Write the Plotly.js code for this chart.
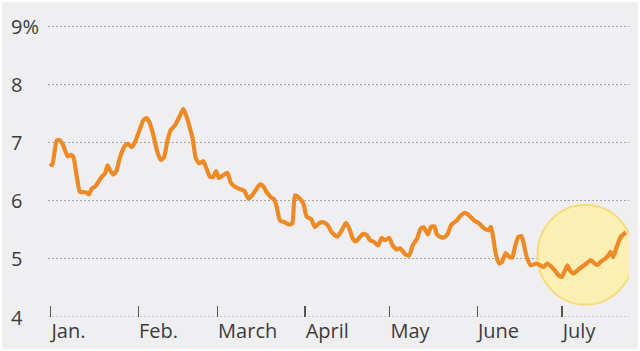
<!DOCTYPE html>
<html><head><meta charset="utf-8">
<script src="https://cdn.plot.ly/plotly-3.0.1.min.js"></script>
<style>
html,body{margin:0;padding:0;background:#fff;}
#wrap{position:relative;width:640px;height:351px;}
#chart{width:640px;height:351px;}
#frame{position:absolute;left:0;top:0;width:636px;height:347px;border:2px solid #fff;pointer-events:none;}
</style>
</head><body><div id="wrap"><div id="chart"></div><div id="frame"></div></div>
<script>
// day of year (0 = Jan 1) where each month starts
const monthStarts = [0, 31, 59, 90, 120, 151, 181];
const monthLabels = ["Jan.", "Feb.", "March", "April", "May", "June", "July"];
const yTicks = [4, 5, 6, 7, 8, 9];
const yLabels = ["4", "5", "6", "7", "8", "9%"];

// day of year
const days = [-0.3,0.5,2.1,3.3,4.4,6.0,7.1,8.0,9.2,10.3,
11.5,12.7,13.5,14.5,15.6,16.8,18.0,19.2,20.1,21.0,
22.1,23.3,24.5,26.3,27.4,28.6,29.8,31.6,32.7,33.9,
34.9,36.3,37.7,38.9,40.1,41.2,42.4,44.0,45.5,46.9,
48.1,49.3,50.2,51.4,52.6,54.0,54.9,56.4,57.5,58.5,
59.6,61.1,62.5,63.7,65.2,67.0,68.5,69.9,71.1,72.5,
74.1,75.2,76.4,77.9,79.1,80.0,81.1,82.7,84.3,85.5,
86.4,87.6,89.4,90.6,92.1,93.5,94.9,96.5,98.0,99.4,
101.4,103.0,104.5,105.7,106.9,108.0,109.5,110.6,111.8,113.0,
114.4,115.9,117.1,118.3,119.8,121.0,122.5,123.6,124.6,125.7,
126.9,128.1,129.7,130.9,132.1,133.5,134.6,135.8,136.6,137.8,
139.3,140.5,141.7,143.7,145.2,146.6,148.0,149.9,151.6,153.5,
154.9,155.8,156.6,157.5,158.7,159.8,161.0,162.2,163.4,164.3,
165.5,166.7,167.7,168.5,169.9,171.8,173.2,174.4,175.8,177.3,
178.5,179.7,180.9,182.0,182.9,183.8,185.0,186.4,187.9,189.7,
191.1,192.3,193.5,194.7,196.2,197.4,198.2,199.1,200.3,201.8,
202.9,203.6];

// rate, %
const rates = [6.64,6.61,7.04,7.04,6.95,6.76,6.79,6.75,6.41,6.15,
6.15,6.14,6.11,6.21,6.24,6.32,6.41,6.47,6.61,6.52,
6.45,6.52,6.75,6.95,6.98,6.92,7.01,7.24,7.38,7.42,
7.35,7.13,6.84,6.70,6.75,7.01,7.21,7.30,7.44,7.58,
7.44,7.24,7.07,6.72,6.64,6.68,6.58,6.41,6.41,6.51,
6.39,6.44,6.48,6.31,6.24,6.20,6.17,6.04,6.08,6.18,
6.28,6.25,6.15,6.06,6.02,5.89,5.66,5.63,5.59,5.61,
6.09,6.06,5.95,5.72,5.69,5.55,5.61,5.63,5.58,5.46,
5.38,5.49,5.62,5.52,5.35,5.30,5.38,5.43,5.41,5.32,
5.29,5.23,5.36,5.32,5.36,5.23,5.16,5.18,5.13,5.07,
5.06,5.23,5.35,5.52,5.54,5.42,5.55,5.56,5.43,5.38,
5.37,5.43,5.58,5.66,5.75,5.79,5.75,5.66,5.61,5.52,
5.49,5.55,5.38,5.09,4.92,4.95,5.10,5.04,5.02,5.20,
5.38,5.39,5.20,5.03,4.89,4.92,4.89,4.86,4.92,4.86,
4.80,4.72,4.69,4.80,4.89,4.80,4.75,4.80,4.86,4.92,
4.98,4.93,4.89,4.95,5.00,5.06,5.12,5.03,5.20,5.38,
5.43,5.46];

const BG = '#efeff1';
const TXT = '#3c3c3c';
const FONT = 'Open Sans';

const trace = {
  x: days, y: rates, type: 'scatter', mode: 'lines',
  line: {color: '#ee8a26', width: 4.2, shape: 'spline', smoothing: 0.5},
  hoverinfo: 'skip'
};

const annotations = yTicks.map((v, i) => ({
  xref: 'paper', yref: 'y', x: -0.0671, y: v, xanchor: 'left', yanchor: 'middle',
  text: yLabels[i], showarrow: false, font: {family: FONT, size: 20, color: TXT}
}));

const layout = {
  width: 640, height: 351,
  margin: {l: 48, r: 11, t: 20, b: 34},
  paper_bgcolor: BG, plot_bgcolor: BG,
  showlegend: false,
  xaxis: {
    type: 'linear', range: [-1.0, 204.7],
    tickvals: monthStarts, ticktext: monthLabels,
    ticks: 'inside', ticklen: 11, tickwidth: 1.3, tickcolor: '#555',
    ticklabelposition: 'outside right',
    tickfont: {family: FONT, size: 20, color: TXT},
    showgrid: false, zeroline: false, showline: false, fixedrange: true
  },
  yaxis: {
    range: [4, 9.108], tickvals: yTicks, showticklabels: false,
    showgrid: true, gridcolor: '#a3a3a3', gridwidth: 1, griddash: '2px,2px',
    zeroline: false, showline: false, ticks: '', fixedrange: true
  },
  shapes: [
    {type: 'circle', layer: 'between', xref: 'x', yref: 'y',
     xsizemode: 'pixel', ysizemode: 'pixel', xanchor: 189.3, yanchor: 5.07,
     x0: -48, x1: 48, y0: -50, y1: 50,
     fillcolor: '#fbefb4', line: {color: '#f6dc7c', width: 2}},
    {type: 'rect', layer: 'between', xref: 'paper', yref: 'y',
     x0: -0.002, x1: 0.0172, y0: 8.97, y1: 9.03, fillcolor: BG, line: {width: 0}},
    {type: 'line', layer: 'between', xref: 'paper', yref: 'y',
     x0: 0, x1: 1, y0: 4, y1: 4, line: {color: '#a3a3a3', width: 1, dash: '2px,2px'}}
  ],
  annotations: annotations
};

Plotly.newPlot('chart', [trace], layout, {displayModeBar: false, staticPlot: true});
</script>
</body></html>
